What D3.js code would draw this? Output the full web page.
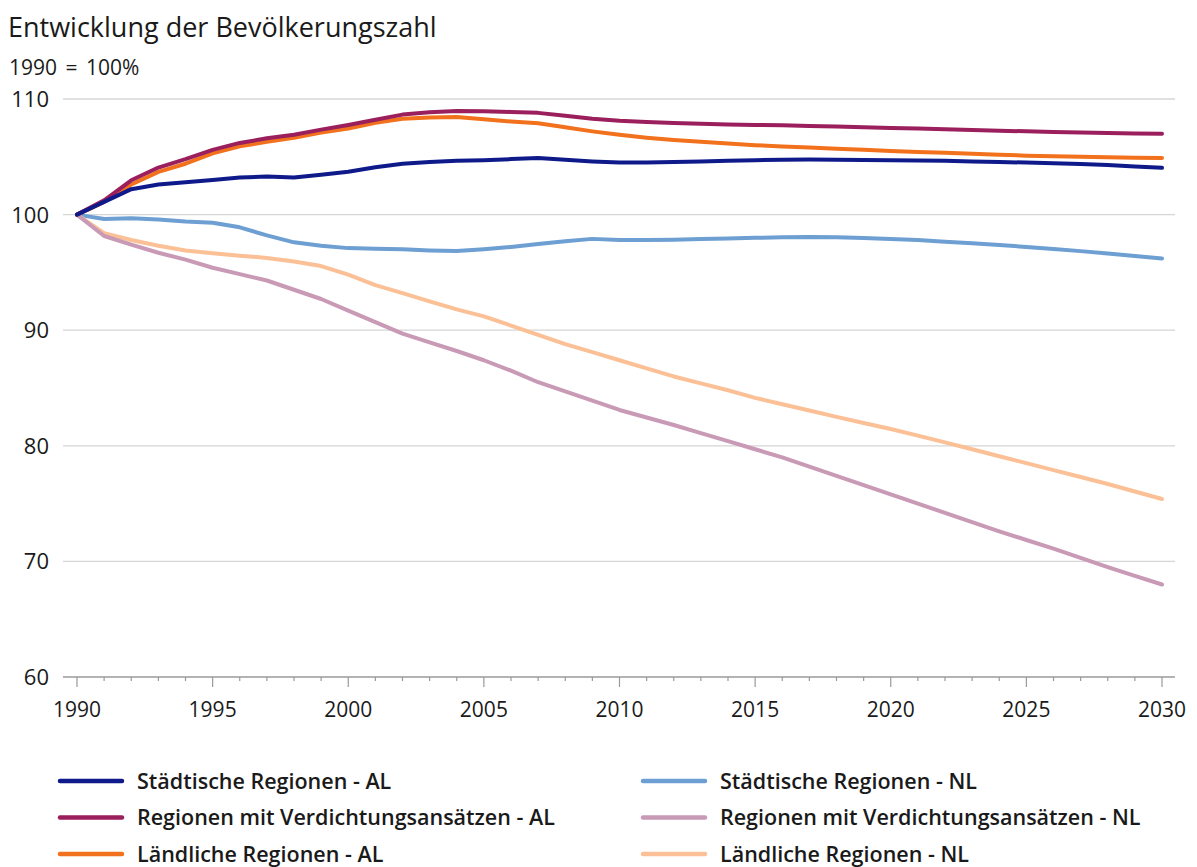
<!DOCTYPE html>
<html>
<head>
<meta charset="utf-8">
<script src="https://cdn.jsdelivr.net/npm/d3@7"></script>
<style>
  body { margin: 0; background: #fff; }
  text { font-family: "Open Sans", "Noto Sans", sans-serif; fill: #1a1a1a; }
</style>
</head>
<body>
<div id="chart"></div>
<script>
// Years and index values (1990 = 100)
var years = d3.range(1990, 2031);

var staedtischAL = [100, 101.1, 102.2, 102.6, 102.8, 103.0, 103.2, 103.3, 103.2, 103.45, 103.7, 104.1, 104.4, 104.55, 104.65, 104.7, 104.8, 104.9, 104.75, 104.6, 104.5, 104.5, 104.55, 104.6, 104.65, 104.7, 104.75, 104.77, 104.75, 104.72, 104.7, 104.68, 104.65, 104.6, 104.55, 104.5, 104.45, 104.38, 104.28, 104.17, 104.05];
var verdichtungAL = [100, 101.24, 102.97, 104.07, 104.8, 105.6, 106.2, 106.6, 106.9, 107.35, 107.75, 108.2, 108.65, 108.85, 108.97, 108.95, 108.88, 108.8, 108.55, 108.3, 108.12, 108.0, 107.92, 107.85, 107.8, 107.76, 107.72, 107.67, 107.62, 107.56, 107.5, 107.44, 107.38, 107.32, 107.26, 107.2, 107.15, 107.1, 107.05, 107.02, 107.0];
var laendlichAL = [100, 101.1, 102.6, 103.7, 104.4, 105.3, 105.9, 106.3, 106.65, 107.1, 107.45, 107.95, 108.3, 108.4, 108.45, 108.25, 108.05, 107.9, 107.55, 107.2, 106.9, 106.65, 106.45, 106.3, 106.15, 106.0, 105.9, 105.8, 105.7, 105.6, 105.5, 105.42, 105.34, 105.26, 105.18, 105.1, 105.05, 105.0, 104.96, 104.92, 104.9];
var staedtischNL = [100, 99.62, 99.68, 99.57, 99.4, 99.3, 98.9, 98.2, 97.6, 97.3, 97.1, 97.05, 97.0, 96.9, 96.85, 97.0, 97.2, 97.45, 97.7, 97.9, 97.8, 97.8, 97.82, 97.88, 97.94, 97.99, 98.03, 98.07, 98.03, 97.97, 97.9, 97.8, 97.65, 97.52, 97.38, 97.2, 97.02, 96.84, 96.63, 96.42, 96.2];
var verdichtungNL = [100, 98.15, 97.4, 96.7, 96.1, 95.4, 94.85, 94.3, 93.5, 92.7, 91.7, 90.7, 89.7, 88.95, 88.2, 87.4, 86.5, 85.5, 84.7, 83.9, 83.1, 82.45, 81.8, 81.1, 80.4, 79.7, 79.0, 78.2, 77.4, 76.6, 75.8, 75.0, 74.2, 73.4, 72.6, 71.85, 71.1, 70.3, 69.5, 68.75, 68.0];
var laendlichNL = [100, 98.4, 97.8, 97.3, 96.9, 96.65, 96.45, 96.25, 95.95, 95.55, 94.8, 93.9, 93.2, 92.5, 91.8, 91.2, 90.4, 89.6, 88.8, 88.1, 87.4, 86.7, 86.0, 85.4, 84.8, 84.15, 83.6, 83.05, 82.5, 81.97, 81.45, 80.88, 80.3, 79.7, 79.1, 78.5, 77.9, 77.3, 76.7, 76.05, 75.4];

var seriesNames = [
  "Städtische Regionen - AL",
  "Regionen mit Verdichtungsansätzen - AL",
  "Ländliche Regionen - AL",
  "Städtische Regionen - NL",
  "Regionen mit Verdichtungsansätzen - NL",
  "Ländliche Regionen - NL"
];
var seriesValues = [staedtischAL, verdichtungAL, laendlichAL, staedtischNL, verdichtungNL, laendlichNL];
var seriesColors = ["#0f1a8a", "#9a1f5c", "#f2711c", "#6d9fd2", "#c99ab6", "#fbc096"];

var yTicks = [60, 70, 80, 90, 100, 110];
var xLabelYears = [1990, 1995, 2000, 2005, 2010, 2015, 2020, 2025, 2030];

var width = 1197, height = 867;

var svg = d3.select("#chart").append("svg")
    .attr("width", width)
    .attr("height", height);

var x = d3.scaleLinear().domain([1990, 2030]).range([77, 1162]);
var y = d3.scaleLinear().domain([60, 110]).range([677, 99]);

// Title
svg.append("text")
    .attr("x", 8).attr("y", 37)
    .style("font-size", "27px")
    .style("font-weight", 500)
    .text("Entwicklung der Bevölkerungszahl");

svg.append("text")
    .attr("x", 9).attr("y", 75)
    .style("font-size", "21px")
    .style("word-spacing", "3px")
    .text("1990 = 100%");

// Gridlines
svg.append("g").selectAll("line")
    .data(yTicks.filter(d => d > 60))
  .enter().append("line")
    .attr("x1", 63).attr("x2", 1175)
    .attr("y1", d => y(d)).attr("y2", d => y(d))
    .attr("stroke", "#d6d6d6")
    .attr("stroke-width", 1.3);

// Y labels
svg.append("g").selectAll("text")
    .data(yTicks)
  .enter().append("text")
    .attr("x", 49)
    .attr("y", d => y(d))
    .attr("dy", "0.36em")
    .attr("text-anchor", "end")
    .style("font-size", "22px")
    .text(d => d);

// X axis line and ticks
svg.append("line")
    .attr("x1", 63).attr("x2", 1175)
    .attr("y1", y(60)).attr("y2", y(60))
    .attr("stroke", "#9a9a9a")
    .attr("stroke-width", 1.3);

svg.append("g").selectAll("line")
    .data(years)
  .enter().append("line")
    .attr("x1", d => x(d)).attr("x2", d => x(d))
    .attr("y1", y(60))
    .attr("y2", d => y(60) + (d % 5 === 0 ? 10 : 4))
    .attr("stroke", "#9a9a9a")
    .attr("stroke-width", 1.2);

svg.append("g").selectAll("text")
    .data(xLabelYears)
  .enter().append("text")
    .attr("x", d => x(d))
    .attr("y", 717)
    .attr("text-anchor", "middle")
    .style("font-size", "21px")
    .text(d => d);

// Lines (light ones first so the dark ones sit on top)
var line = d3.line()
    .x((d, i) => x(years[i]))
    .y(d => y(d));

var drawOrder = [3, 5, 4, 2, 1, 0];
svg.append("g").selectAll("path")
    .data(drawOrder)
  .enter().append("path")
    .attr("d", i => line(seriesValues[i]))
    .attr("fill", "none")
    .attr("stroke", i => seriesColors[i])
    .attr("stroke-width", 4)
    .attr("stroke-linejoin", "round")
    .attr("stroke-linecap", "round");

// Legend
var legend = svg.append("g").selectAll("g")
    .data(seriesNames)
  .enter().append("g")
    .attr("transform", (d, i) => "translate(" + (i < 3 ? 60 : 643) + "," + (781 + (i % 3) * 36.5) + ")");

legend.append("line")
    .attr("x1", 0).attr("x2", 62)
    .attr("stroke", (d, i) => seriesColors[i])
    .attr("stroke-width", 4.5)
    .attr("stroke-linecap", "round");

legend.append("text")
    .attr("x", 77)
    .attr("dy", "0.36em")
    .style("font-size", "21.5px")
    .style("font-weight", 600)
    .text(d => d);
</script>
</body>
</html>
